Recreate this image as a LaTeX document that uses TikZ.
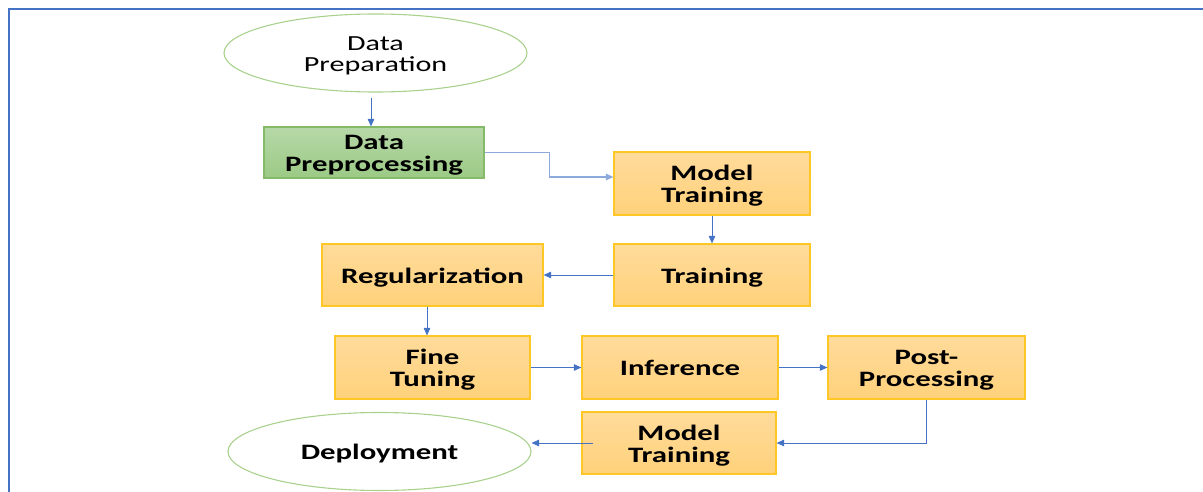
\documentclass[tikz,border=0pt]{standalone}
\usepackage{fontspec}
\usetikzlibrary{arrows.meta,shapes.geometric}
\newfontfamily\flowfont[FakeStretch=1.4]{Carlito}
% centred stack of lines with extra room on top, so the ink sits in the middle of its shape
\newcommand\stagelines[1]{\raisebox{0pt}[\dimexpr\height+7.5pt\relax][\depth]{\begin{tabular}{@{}c@{}}#1\end{tabular}}}
\definecolor{frameblue}{RGB}{68,114,196}
\definecolor{linkblue}{RGB}{68,114,196}
\definecolor{softblue}{RGB}{142,169,219}
\definecolor{goldedge}{RGB}{255,199,38}
\definecolor{goldtop}{RGB}{255,219,155}
\definecolor{goldbot}{RGB}{255,209,122}
\definecolor{greenedge}{RGB}{132,186,104}
\definecolor{greentop}{RGB}{183,216,168}
\definecolor{greenbot}{RGB}{155,202,133}
\definecolor{ovaledge}{RGB}{169,209,142}
\tikzset{
  stagebox/.style={draw=goldedge, line width=1.2pt, top color=goldtop, bottom color=goldbot,
    rectangle, inner sep=0pt,
    font=\flowfont\bfseries\fontsize{22}{21}\selectfont},
  prepbox/.style={stagebox, draw=greenedge, top color=greentop, bottom color=greenbot},
  endoval/.style={draw=ovaledge, line width=1.1pt, ellipse, inner sep=0pt,
    font=\flowfont\bfseries\fontsize{22}{21}\selectfont},
  link/.style={draw=linkblue, line width=0.9pt, -{Triangle[length=7.5pt,width=6.5pt]}},
}
\begin{document}
\begin{tikzpicture}[x=1pt,y=-1pt]
  \useasboundingbox (0,0) rectangle (1203,492);
  % outer frame, open to the right and bottom
  \draw[frameblue, line width=2pt] (1203,9) -- (9,9) -- (9,492);

  % stages
  \node[endoval, minimum width=303pt, minimum height=78pt,
        font=\flowfont\fontsize{21.5}{20}\selectfont] (dprep) at (375.5,53) {\stagelines{Data\\Preparation}};
  \node[prepbox, minimum width=220pt, minimum height=51pt] (preproc) at (374,152.5) {\stagelines{Data\\Preprocessing}};
  \node[stagebox, minimum width=196pt, minimum height=63pt] (mtrain) at (712,183.5) {\stagelines{Model\\Training}};
  \node[stagebox, minimum width=196pt, minimum height=62pt] (train) at (712,275) {\stagelines{Training}};
  \node[stagebox, minimum width=221pt, minimum height=62pt] (reg) at (432.5,275) {\stagelines{Regularization}};
  \node[stagebox, minimum width=195pt, minimum height=63pt] (fine) at (432.5,367.5) {\stagelines{Fine\\Tuning}};
  \node[stagebox, minimum width=196pt, minimum height=63pt] (infer) at (680,367.5) {\stagelines{Inference}};
  \node[stagebox, minimum width=197pt, minimum height=63pt] (post) at (926.5,367.5) {\stagelines{Post-\\Processing}};
  \node[stagebox, minimum width=194pt, minimum height=62pt] (mtrainb) at (679,443) {\stagelines{Model\\Training}};
  \node[endoval, minimum width=303pt, minimum height=78pt] (deploy) at (379.5,451.5) {\stagelines{Deployment}};

  % connectors
  \draw[link] ([xshift=-4.5pt,yshift=-5pt]dprep.south) -- ([xshift=-3pt]preproc.north);
  \draw[link, draw=softblue, line width=1.1pt] (preproc.east) -- ++(65,0) |- ([yshift=6.5pt]mtrain.west);
  \draw[link] (mtrain.south) -- (train.north);
  \draw[link] (train.west) -- (reg.east);
  \draw[link] ([xshift=-5.5pt]reg.south) -- ([xshift=-5.5pt]fine.north);
  \draw[link] (fine.east) -- (infer.west);
  \draw[link] (infer.east) -- (post.west);
  \draw[link] (post.south) |- (mtrainb.east);
  \draw[link] ([xshift=12pt]mtrainb.west) -- (deploy.east |- mtrainb.west);
\end{tikzpicture}
\end{document}
